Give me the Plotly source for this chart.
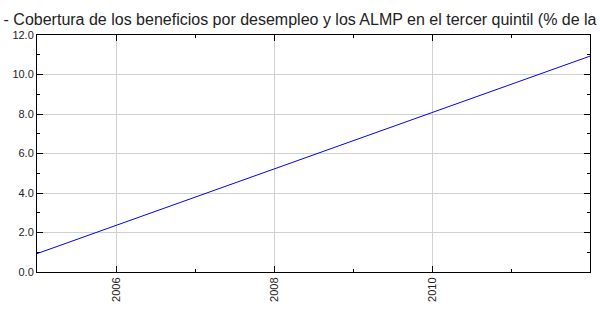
import plotly.graph_objects as go

years = [2005, 2006, 2007, 2008, 2009, 2010, 2011, 2012]
values = [0.93, 2.36, 3.79, 5.22, 6.65, 8.08, 9.51, 10.93]
title_text = "- Cobertura de los beneficios por desempleo y los ALMP en el tercer quintil (% de la"

fig = go.Figure()
fig.add_trace(go.Scatter(x=years, y=values, mode="lines",
                         line=dict(color="#0000ff", width=1), hoverinfo="skip"))

axis_common = dict(showline=True, linecolor="#000000", linewidth=1, mirror="allticks",
                   ticks="inside", ticklen=6, tickcolor="#000000", tickwidth=1,
                   showgrid=True, gridcolor="#d0d0d0", gridwidth=1, zeroline=False,
                   tickfont=dict(family="Liberation Sans, Arial", size=11, color="#222222"))

fig.update_xaxes(range=[2005, 2012], tickvals=[2006, 2008, 2010], ticktext=["2006", "2008", "2010"],
                 tickangle=-90,
                 minor=dict(tickvals=[2007, 2009, 2011], ticklen=3, tickcolor="#000000", ticks="inside",
                            showgrid=False),
                 **axis_common)
fig.update_yaxes(range=[0, 12], tickvals=[0, 2, 4, 6, 8, 10, 12],
                 ticktext=["0.0", "2.0", "4.0", "6.0", "8.0", "10.0", "12.0"],
                 minor=dict(tickvals=[1, 3, 5, 7, 9, 11], ticklen=3, tickcolor="#000000", ticks="inside",
                            showgrid=False),
                 **axis_common)

fig.update_layout(
    width=600, height=315,
    margin=dict(l=37, r=10, t=35, b=43),
    paper_bgcolor="#ffffff", plot_bgcolor="#ffffff",
    showlegend=False,
    title=dict(text=title_text, x=0.006, xanchor="left", y=0.94, yanchor="middle",
               font=dict(family="Liberation Sans, Arial", size=16, color="#222222")),
)

fig.write_html("out.html", config={"displayModeBar": False})
